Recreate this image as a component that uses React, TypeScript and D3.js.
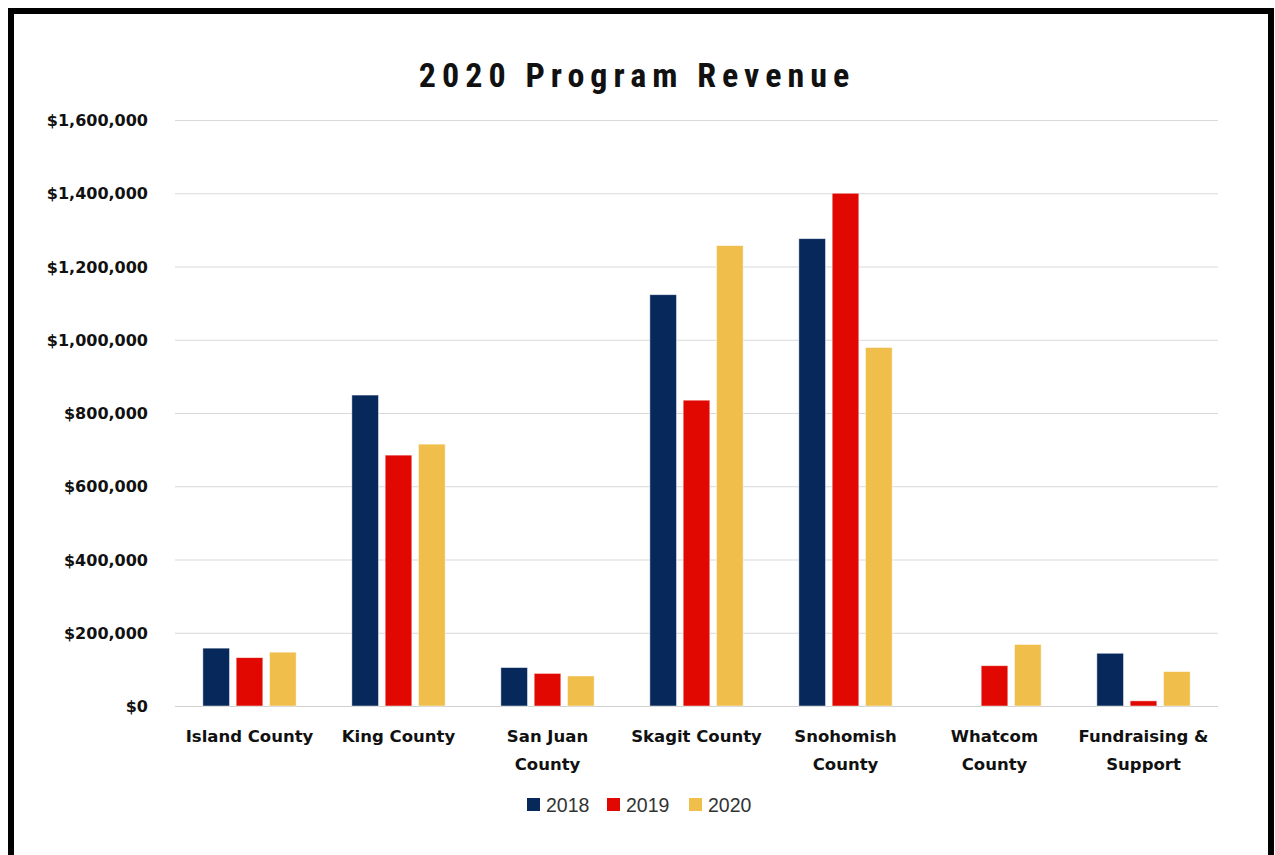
import React from "react";
import * as d3 from "d3";

const categories: string[][] = [
  ["Island County"],
  ["King County"],
  ["San Juan", "County"],
  ["Skagit County"],
  ["Snohomish", "County"],
  ["Whatcom", "County"],
  ["Fundraising &", "Support"],
];
const years = ["2018", "2019", "2020"];
const values2018 = [158000, 849000, 105000, 1123000, 1276000, 0, 144000];
const values2019 = [132000, 685000, 89000, 835000, 1400000, 110000, 14000];
const values2020 = [147000, 715000, 82000, 1257000, 979000, 168000, 94000];
const yTicks = [0, 200000, 400000, 600000, 800000, 1000000, 1200000, 1400000, 1600000];
const colors = ["#07285A", "#E00800", "#F0BE4B"];

export default function App() {
  const W = 1275, H = 855;
  const left = 175, right = 1218, top = 120, bottom = 706;
  const series = [values2018, values2019, values2020];
  const catKeys = categories.map((c) => c.join(" "));
  const x0 = d3.scaleBand<string>().domain(catKeys).range([left, right]).padding(0);
  const groupW = 93.3;
  const x1 = d3.scaleBand<string>().domain(years).range([0, groupW]).paddingInner(0.2);
  const y = d3.scaleLinear().domain([0, 1600000]).range([bottom, top]);
  const fmt = (v: number) => "$" + d3.format(",")(v);
  const labelFont = "'DejaVu Sans', Verdana, sans-serif";
  const titleLS = 6;

  return (
    <svg width={W} height={H} style={{ position: "absolute", left: 0, top: 0, background: "#fff" }}>
      <rect x={0} y={0} width={W} height={H} fill="#fff" />
      {/* frame */}
      <path d={`M11,${H + 10} V11 H1271 V${H + 10}`} fill="none" stroke="#000" strokeWidth={6} />
      <text
        x={634 + titleLS / 2}
        y={87}
        textAnchor="middle"
        fontFamily="'Liberation Sans Narrow', 'Arial Narrow', 'Roboto Condensed', sans-serif"
        fontWeight="bold"
        fontSize={34}
        letterSpacing={titleLS}
        fill="#111"
      >
        2020 Program Revenue
      </text>
      {yTicks.map((t) => (
        <g key={t}>
          <line x1={left} x2={right} y1={y(t) + 0.5} y2={y(t) + 0.5} stroke={t === 0 ? "#d0d0d0" : "#d9d9d9"} strokeWidth={1} />
          <text
            x={148}
            y={y(t) + 6}
            textAnchor="end"
            fontFamily={labelFont}
            fontWeight="bold"
            fontSize={16}
            fill="#111"
          >
            {fmt(t)}
          </text>
        </g>
      ))}
      {catKeys.map((k, i) => {
        const cx = (x0(k) as number) + x0.bandwidth() / 2;
        const gx = cx - groupW / 2;
        return (
          <g key={k}>
            {series.map((s, j) =>
              s[i] > 0 ? (
                <rect
                  key={j}
                  x={gx + (x1(years[j]) as number)}
                  y={y(s[i])}
                  width={x1.bandwidth()}
                  height={bottom - y(s[i])}
                  fill={colors[j]}
                  stroke="#fff"
                  strokeOpacity={0.6}
                  strokeWidth={0.8}
                />
              ) : null
            )}
            {categories[i].map((line, li) => (
              <text
                key={li}
                x={cx}
                y={742 + li * 28}
                textAnchor="middle"
                fontFamily={labelFont}
                fontWeight="bold"
                fontSize={16.5}
                fill="#111"
              >
                {line}
              </text>
            ))}
          </g>
        );
      })}
      {years.map((yr, j) => {
        const lx = [527, 607, 689][j];
        return (
          <g key={yr}>
            <rect x={lx} y={798} width={13} height={13} fill={colors[j]} />
            <text x={lx + 19} y={812} fontFamily="'Liberation Sans', Arial, sans-serif" fontSize={19.5} fill="#333">
              {yr}
            </text>
          </g>
        );
      })}
    </svg>
  );
}
